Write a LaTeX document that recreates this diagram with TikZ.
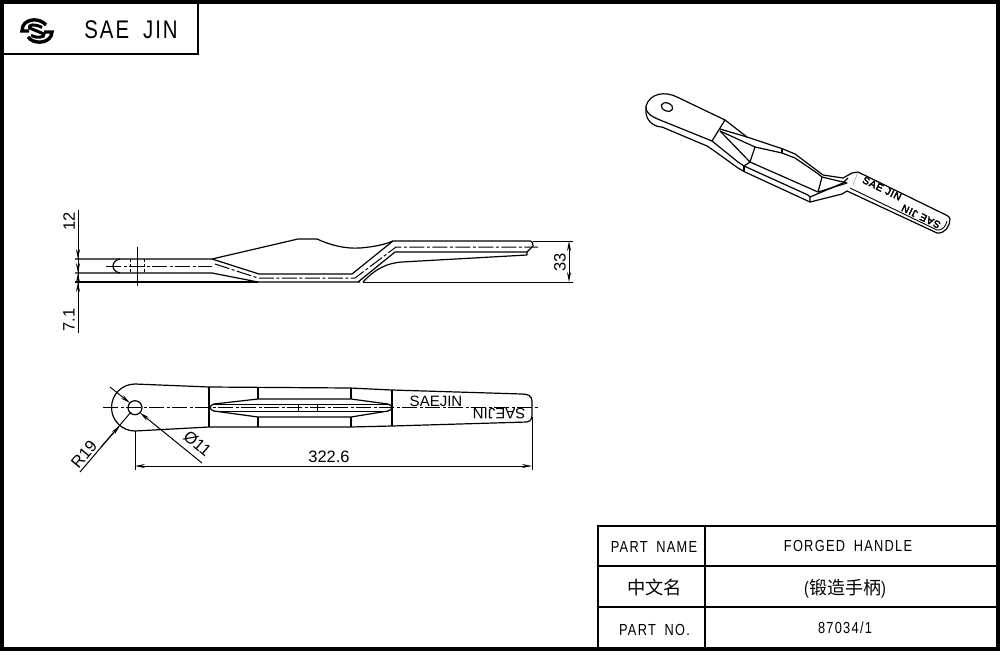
\documentclass[tikz,border=0pt]{standalone}
\usepackage{fontspec}
\setmainfont{Liberation Sans}
\newfontfamily\cadfont[FakeStretch=0.8,LetterSpace=8,WordSpace=1.8]{Liberation Sans}
\newfontfamily\stampfont[FakeBold=3.5,LetterSpace=8]{Liberation Sans}
\newfontfamily\cjk{Noto Sans CJK SC}
\usetikzlibrary{arrows.meta, positioning}
\tikzset{
    outline/.style={line width=1.2pt, line join=round},
    frameline/.style={line width=1.3pt},
    centerline/.style={line width=1pt, dash pattern=on 15pt off 2.5pt on 3pt off 2.5pt},
    hidden/.style={line width=1pt, dash pattern=on 3pt off 2pt},
    dimline/.style={line width=1pt, >={Stealth[length=10pt, width=4pt]}},
    dimtext/.style={font=\fontsize{16.5}{16}\selectfont, inner sep=0pt},
    cadtext/.style={font=\cadfont\fontsize{16}{17}\selectfont, inner sep=0pt},
    stamp/.style={font=\stampfont\fontsize{10}{10}\selectfont, inner sep=0pt}
}
\begin{document}
\begin{tikzpicture}[x=1pt, y=-1pt]
    \useasboundingbox (0,0) rectangle (1000,651);
    \fill[white] (0,0) rectangle (1000,651);
    \draw[line width=4pt] (2,2) rectangle (998,649);
    % title block
    \draw[frameline] (4,54) -- (198,54) -- (198,4);
    \draw[line width=3.4pt] (46,25) .. controls (40,18) and (27,18) .. (23,26) -- (22,31) -- (29,31);
    \draw[line width=3.4pt] (28,37) .. controls (33,44) and (47,44) .. (51,36) -- (52,32) -- (44,32);
    \draw[line width=3pt] (42,27.5) .. controls (35,23.5) and (28,24.5) .. (29.5,28) -- (44,34) .. controls (45,37.5) and (37,38.5) .. (31,35.5);
    \node[font=\cadfont\fontsize{25.5}{26}\selectfont, inner sep=0pt] (company) at (131,30) {SAE JIN};
    \draw[frameline] (598,647) -- (598,526) -- (996,526);
    \draw[frameline] (598,566) -- (996,566);
    \draw[frameline] (598,607) -- (996,607);
    \draw[frameline] (705,526) -- (705,647);
    \node[cadtext] (nameKey) at (654,547) {PART NAME};
    \node[cadtext] (nameVal) at (848,546) {FORGED HANDLE};
    \node[cadtext, font=\cjk\fontsize{18.3}{18}\selectfont] (cnKey) at (654.5,587) {中文名};
    \node[cadtext, font=\cadfont\fontsize{18}{18}\selectfont] (cnVal) at (845,589) {(\cjk 锻造手柄\cadfont)};
    \node[cadtext] (noKey) at (654.5,630) {PART NO.};
    \node[cadtext] (noVal) at (845,628) {87034/1};
    % side view
    \draw[outline] (75,259) -- (212,259) -- (298,239) -- (317,239) .. controls (330,245) and (345,249) .. (360,248) .. controls (372,247) and (384,245) .. (393,241) -- (530,241) .. controls (533,241) and (533,245) .. (533,246) -- (527,252) -- (395,252) -- (358,282);
    \draw[outline] (212,259) -- (259,274) -- (352,274) -- (393,241);
    \draw[outline] (75,273) -- (212,273) -- (258,282) -- (360,282);
    \draw[outline] (75,282) -- (258,282);
    \draw[outline] (527,252) -- (527,255) -- (402,262) .. controls (388,263) and (376,268) .. (363,282);
    \draw[outline] (120,259) .. controls (115,260) and (113,263) .. (113,266) .. controls (113,269) and (115,272) .. (120,273);
    \draw[hidden] (130,259) -- (130,273);
    \draw[hidden] (144,259) -- (144,273);
    \draw[centerline] (106,266) -- (212,266);
    \draw[centerline] (215,264) -- (258,278) -- (355,278) -- (396,247) -- (538,247);
    \draw[line width=1pt] (137,247) -- (137,286);
    \draw[line width=1pt] (533,241) -- (573,241);
    \draw[line width=1pt] (363,282) -- (573,282);
    \draw[dimline] (78,210) -- (78,333);
    \draw[dimline, ->] (78,248) -- (78,259);
    \draw[dimline, ->] (78,262) -- (78,273);
    \draw[dimline, ->] (78,284) -- (78,273);
    \draw[dimline, ->] (78,293) -- (78,282);
    \draw[dimline, <->] (569,241) -- (569,282);
    \node[dimtext, rotate=90] (thickHead) at (69,221) {12};
    \node[dimtext, rotate=90] (thickStep) at (69,320) {7.1};
    \node[dimtext, rotate=90] (height) at (560,262) {33};
    % top view
    \draw[outline] (135,384) arc[start angle=90, end angle=270, radius=23.5pt] -- (209,427) -- (350,427) -- (392,426) -- (527,422) .. controls (531,421) and (532,418) .. (532,416) -- (532,401) .. controls (532,396) and (528,394) .. (522,394) -- (392,390) -- (350,388) -- (209,387) -- cycle;
    \draw[outline] (209,387) -- (209,427);
    \draw[outline] (258,388) -- (258,399);
    \draw[outline] (258,417) -- (258,427);
    \draw[outline] (351,388) -- (351,399);
    \draw[outline] (351,417) -- (351,427);
    \draw[outline] (392,390) -- (392,426);
    \draw[outline] (258,399) -- (351,399) -- (388,404) .. controls (393,405) and (393,410) .. (388,411) -- (351,417) -- (258,417) -- (214,411) .. controls (209,410) and (209,405) .. (214,404) -- cycle;
    \draw[line width=1pt] (214,404) -- (388,404);
    \draw[line width=1pt] (214,411) -- (388,411);
    \draw[line width=1pt] (298,404) -- (298,411);
    \draw[line width=1pt] (317,404) -- (317,411);
    \draw[centerline] (103,407.7) -- (539,407.7);
    \draw[outline] (135,407.7) circle (7pt);
    \draw[line width=1pt] (135,431) -- (135,470);
    \draw[line width=1pt] (532,417) -- (532,470);
    \draw[dimline, <->] (135,466) -- (532,466);
    \draw[dimline] (80,472) -- (131,412);
    \draw[dimline, ->] (101,447) -- (120,425.5);
    \draw[dimline, ->] (110,387) -- (130,403);
    \draw[dimline, <-] (140,412.7) -- (202,463);
    \node[dimtext] (valueLength) at (329,457) {322.6};
    \node[dimtext, rotate=50] (valueRadius) at (84,454) {R19};
    \node[dimtext, rotate=-40] (valueBore) at (197.5,443.5) {Ø11};
    \node[dimtext, font=\fontsize{15}{15}\selectfont] (stampTop) at (436,401.5) {SAEJIN};
    \node[dimtext, font=\fontsize{15}{15}\selectfont, rotate=180] (stampBottom) at (499,414) {SAEJIN};
    % isometric view
    \draw[outline] (725,120) -- (677,97) .. controls (665,91) and (650,93) .. (646,106) .. controls (645,112) and (650,116) .. (660,120) -- (712,141) -- cycle;
    \draw[outline] (646,107) -- (646,113) .. controls (647,122) and (655,127) .. (662,127) -- (707,146) -- (713,150) -- (738,168) -- (745,172) -- (810,202) -- (842,194) -- (847,191) -- (937,233) .. controls (945,234) and (950,226) .. (950,219) .. controls (950,217) and (948,216) .. (946,215) -- (858,172) -- (852,173) -- (843,178) -- (823,175) -- (795,154) -- (783,149) -- (747,137) -- (725,120);
    \draw[outline, rotate around={-20:(667,107)}] (667,107) ellipse (6pt and 4pt);
    \draw[outline] (720,129) -- (747,137);
    \draw[outline] (720,131) -- (755,147) -- (782,153) -- (795,158) -- (817,173) -- (822,177) -- (847,183) -- (818,192) -- (822,177);
    \draw[outline] (720,131) -- (750,162) -- (755,147);
    \draw[outline] (712,141) -- (738,162) -- (744,166) -- (750,162) -- (818,192);
    \draw[outline] (744,166) -- (744,172);
    \draw[outline] (744,166) -- (808,195) -- (810,197) -- (810,202);
    \draw[outline] (810,197) -- (843,183) -- (848,178);
    \draw[line width=0.4pt, gray] (858,172) -- (853,185);
    \draw[outline] (782,149) -- (782,153);
    \draw[line width=0.9pt] (850,188) -- (937,230) .. controls (942,231) and (946,226) .. (947,221);
    \node[stamp, rotate=-26] (stampNear) at (882,188.5) {SAE JIN};
    \node[stamp, rotate=154] (stampFar) at (921,216.5) {SAE JIN};
\end{tikzpicture}
\end{document}
